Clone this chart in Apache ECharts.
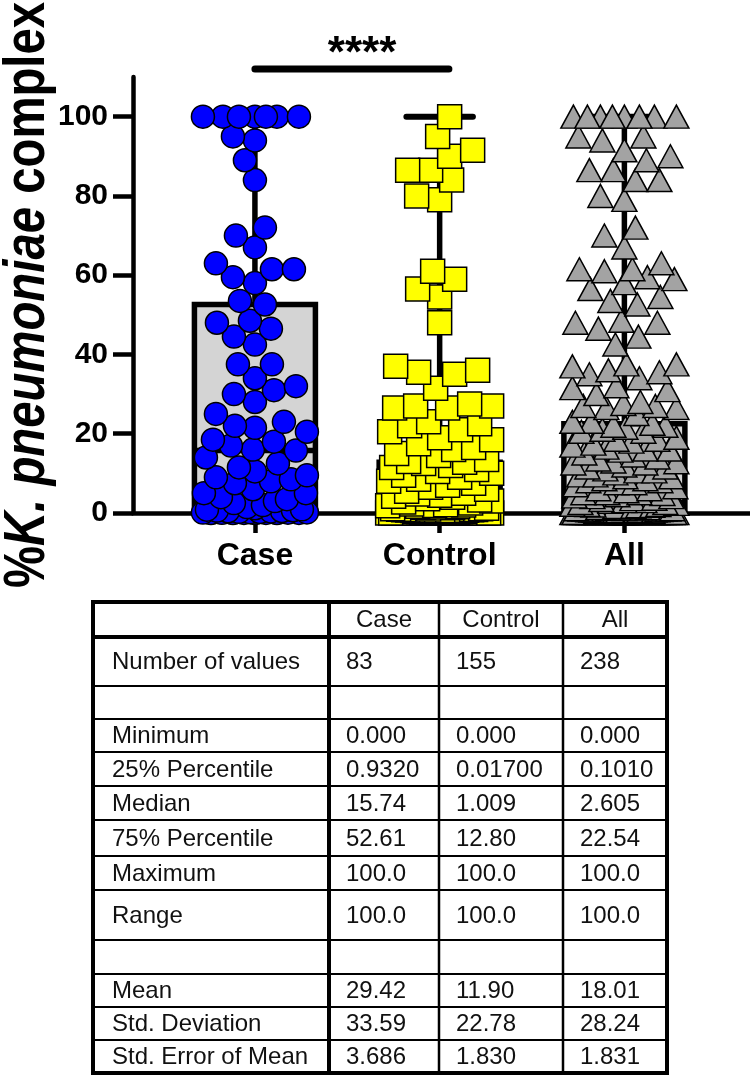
<!DOCTYPE html>
<html><head><meta charset="utf-8">
<script src="https://cdn.jsdelivr.net/npm/echarts@6/dist/echarts.min.js"></script>
<style>html,body{margin:0;padding:0;background:#fff}#c{width:750px;height:1080px}</style>
</head><body><div id="c"></div>
<script>
// ---------------- data ----------------
const categories = ['Case', 'Control', 'All'];
const yTicks = [0, 20, 40, 60, 80, 100];
const yAxisTitle = ['%', 'K. pneumoniae', ' complex'];

const caseValues = [
  100, 100, 100, 100, 100, 100, 100, 95, 94, 89, 84, 72, 70, 67, 63, 61.5, 61.5, 59.5, 58, 53.5, 52.61,
  48.5, 48, 46.5, 44.5, 42.5, 37.5, 37.5, 34, 32, 31, 30, 28, 25, 23, 22, 21.5, 20.5, 18.5, 18, 17, 16,
  15.74,
  14, 12.5, 11.5, 10.5, 9.5, 9, 8.5, 8, 7.5, 6, 5, 5, 4, 3.5, 3, 2.5, 2, 1.5, 1.2, 0.932,
  0.85, 0.7, 0.6, 0.5, 0.45, 0.4, 0.3, 0.25, 0.2, 0.15, 0.1, 0.08, 0.05, 0.03, 0.02, 0.01, 0, 0, 0, 0
];

const controlValues = [
  100, 95, 91.5, 90, 86.5, 86.5, 84, 80, 79, 61, 59, 56.5, 54.5, 48, 37, 36, 35.5, 35, 31.5,
  27.5, 27, 27, 26.5, 26.5, 23, 22.5, 22, 21, 20.5, 19, 18.5, 17.5, 16.5, 16, 15, 14.5, 13.5, 13,
  12.8, 12.5, 12, 11.5, 11, 10.5, 10, 9.5, 9, 8.5, 8, 7.5, 7, 6.5, 6, 5.5, 5,
  4.8, 4.5, 4.2, 4, 3.6, 3.3, 3, 2.8, 2.5, 2.3, 2.1, 2, 1.9, 1.8, 1.7, 1.6, 1.5, 1.4, 1.3, 1.2, 1.1, 1.05,
  1.009,
  0.95, 0.9, 0.85, 0.8, 0.75, 0.7, 0.65, 0.6, 0.55, 0.5, 0.45, 0.42, 0.4, 0.37, 0.35, 0.32, 0.3, 0.28, 0.25,
  0.22, 0.2, 0.18, 0.16, 0.15, 0.13, 0.12, 0.1, 0.09, 0.08, 0.07, 0.06, 0.05, 0.045, 0.04, 0.035, 0.03, 0.025, 0.02,
  0.017,
  0.015, 0.012, 0.01, 0.008, 0.005, 0.003, 0.002, 0.001,
  0, 0, 0, 0, 0, 0, 0, 0, 0, 0, 0, 0, 0, 0, 0, 0, 0, 0, 0, 0, 0, 0, 0, 0, 0, 0, 0, 0, 0, 0
];

const allValues = caseValues.concat(controlValues);

const minimums = [0, 0, 0];
const q1s = [0.932, 0.017, 0.101];
const medians = [15.74, 1.009, 2.605];
const q3s = [52.61, 12.80, 22.54];
const maximums = [100, 100, 100];

const sigLabel = '****';
const sigBar = [1.0, 2.05];   // x-extent of the comparison bar (category units)
const sigBarY = 112;
const sigLabelPos = [1.58, 115.5];

const tableHeader = ['', 'Case', 'Control', 'All'];
const tableRows = [
  ['Number of values', '83', '155', '238'],
  ['', '', '', ''],
  ['Minimum', '0.000', '0.000', '0.000'],
  ['25% Percentile', '0.9320', '0.01700', '0.1010'],
  ['Median', '15.74', '1.009', '2.605'],
  ['75% Percentile', '52.61', '12.80', '22.54'],
  ['Maximum', '100.0', '100.0', '100.0'],
  ['Range', '100.0', '100.0', '100.0'],
  ['', '', '', ''],
  ['Mean', '29.42', '11.90', '18.01'],
  ['Std. Deviation', '33.59', '22.78', '28.24'],
  ['Std. Error of Mean', '3.686', '1.830', '1.831']
];

// ---------------- layout ----------------
const GRID = { left: 133, top: 77, width: 617, height: 436 };
const X_MIN = 0.34, X_MAX = 3.68, Y_MIN = 0, Y_MAX = 110;
const BOX_W = 0.655, CAP_W = 0.36;
const FONT = "'Liberation Sans', Arial, Helvetica, sans-serif";

const rowBounds = [602, 637, 686, 719, 752, 786, 820, 856, 890, 940, 974, 1007, 1040, 1073];
const colBounds = [93, 329, 439, 563, 667];

// deterministic beeswarm placement (pixel collision avoidance)
function beeswarm(values, ci, symW, symH) {
  const xPx = GRID.width / (X_MAX - X_MIN), yPx = GRID.height / (Y_MAX - Y_MIN);
  const maxHalf = 52;
  const sorted = values.slice().sort((a, b) => a - b);
  const placed = [], out = [];
  const cands = [0];
  for (let k = 1; k <= maxHalf; k++) cands.push(-k, k);
  sorted.forEach(v => {
    const py = v * yPx;
    let best = 0, bestScore = -Infinity;
    for (const cx of cands) {
      let minD = Infinity;
      for (const p of placed) {
        const dy = (p[1] - py) / symH;
        if (Math.abs(dy) >= 0.95) continue;
        const dd = Math.hypot((p[0] - cx) / symW, dy);
        if (dd < minD) minD = dd;
      }
      if (minD >= 0.95) { best = cx; break; }
      if (minD > bestScore + 0.02) { bestScore = minD; best = cx; }
    }
    placed.push([best, py]);
    out.push([ci + best / xPx, v]);
  });
  return out;
}

const casePts = beeswarm(caseValues, 1, 23, 23);
const controlPts = beeswarm(controlValues, 2, 24, 24);
const allPts = beeswarm(allValues, 3, 25, 23);

const boxData = categories.map((c, i) => [i + 1, minimums[i], q1s[i], medians[i], q3s[i], maximums[i]]);

function renderBox(params, api) {
  const ci = api.value(0);
  const yMin = api.coord([ci, api.value(1)])[1];
  const yQ1 = api.coord([ci, api.value(2)])[1];
  const yMd = api.coord([ci, api.value(3)])[1];
  const yQ3 = api.coord([ci, api.value(4)])[1];
  const yMax = api.coord([ci, api.value(5)])[1];
  const x = api.coord([ci, 0])[0];
  const hb = api.size([BOX_W, 0])[0] / 2;
  const hc = api.size([CAP_W, 0])[0] / 2;
  const st = { stroke: '#000', lineWidth: 5.5 };
  const stR = { stroke: '#000', lineWidth: 6, lineCap: 'round' };
  return {
    type: 'group', children: [
      { type: 'line', shape: { x1: x, y1: yQ3, x2: x, y2: yMax }, style: st },
      { type: 'line', shape: { x1: x, y1: yQ1, x2: x, y2: yMin }, style: st },
      { type: 'line', shape: { x1: x - hc, y1: yMax, x2: x + hc, y2: yMax }, style: stR },
      { type: 'line', shape: { x1: x - hc, y1: yMin, x2: x + hc, y2: yMin }, style: stR },
      { type: 'rect', shape: { x: x - hb, y: yQ3, width: 2 * hb, height: yQ1 - yQ3 }, style: { fill: '#d4d4d4', stroke: '#000', lineWidth: 5.5 } },
      { type: 'line', shape: { x1: x - hb, y1: yMd, x2: x + hb, y2: yMd }, style: st }
    ]
  };
}

// ---------------- table + axis title (graphic) ----------------
const graphics = [];
graphics.push({
  type: 'text', silent: true, x: 28, y: 295, rotation: Math.PI / 2, scaleX: 0.83, scaleY: 1,
  style: {
    text: '{n|' + yAxisTitle[0] + '}{i|' + yAxisTitle[1] + '}{n|' + yAxisTitle[2] + '}',
    align: 'center', verticalAlign: 'middle',
    rich: {
      n: { fontSize: 57, fontWeight: 'bold', fontFamily: FONT, fill: '#000' },
      i: { fontSize: 57, fontWeight: 'bold', fontStyle: 'italic', fontFamily: FONT, fill: '#000' }
    }
  }
});
rowBounds.forEach((y, i) => {
  const thick = (i === 0 || i === 1 || i === rowBounds.length - 1) ? 4 : 2;
  graphics.push({ type: 'line', silent: true, shape: { x1: colBounds[0] - 2, y1: y, x2: colBounds[colBounds.length - 1] + 2, y2: y }, style: { stroke: '#000', lineWidth: thick } });
});
colBounds.forEach((x, i) => {
  const thick = (i === 0 || i === 1 || i === colBounds.length - 1) ? 4 : 2.5;
  graphics.push({ type: 'line', silent: true, shape: { x1: x, y1: rowBounds[0], x2: x, y2: rowBounds[rowBounds.length - 1] }, style: { stroke: '#000', lineWidth: thick } });
});
const allRows = [tableHeader].concat(tableRows);
allRows.forEach((row, r) => {
  const yc = (rowBounds[r] + rowBounds[r + 1]) / 2 + 1;
  row.forEach((txt, c) => {
    if (!txt) return;
    const isHeader = r === 0;
    const x = isHeader ? (colBounds[c] + colBounds[c + 1]) / 2 : (c === 0 ? colBounds[0] + 19 : colBounds[c] + 17);
    graphics.push({ type: 'text', silent: true, x: x, y: yc, style: { text: txt, fill: '#111', font: '24px ' + FONT, align: isHeader ? 'center' : 'left', verticalAlign: 'middle' } });
  });
});

// ---------------- chart ----------------
const chart = echarts.init(document.getElementById('c'), null, { renderer: 'canvas' });
const axisLine = { show: true, lineStyle: { color: '#000', width: 4.5 } };
chart.setOption({
  animation: false,
  backgroundColor: '#fff',
  grid: Object.assign({ outerBoundsMode: 'none', containLabel: false }, GRID),
  xAxis: {
    type: 'value', min: X_MIN, max: X_MAX, splitLine: { show: false },
    axisLine: axisLine,
    axisTick: { show: true, customValues: [1, 2, 3], length: 20, lineStyle: { color: '#000', width: 4.5 } },
    axisLabel: { customValues: [1, 2, 3], formatter: v => categories[Math.round(v) - 1], fontSize: 32, fontWeight: 'bold', color: '#000', fontFamily: FONT, margin: 27 }
  },
  yAxis: {
    type: 'value', min: Y_MIN, max: Y_MAX, interval: 20, splitLine: { show: false },
    axisLine: axisLine,
    axisTick: { show: true, customValues: yTicks, length: 20, lineStyle: { color: '#000', width: 4.5 } },
    axisLabel: { customValues: yTicks, fontSize: 30, fontWeight: 'bold', color: '#000', fontFamily: FONT, margin: 25 }
  },
  graphic: graphics,
  series: [
    { type: 'custom', renderItem: renderBox, data: boxData, encode: { x: 0, y: [1, 2, 3, 4, 5] }, z: 1, silent: true },
    { type: 'scatter', data: casePts, symbol: 'circle', symbolSize: 23, itemStyle: { color: '#0000ff', borderColor: '#000', borderWidth: 1.5, opacity: 1 }, z: 3, silent: true },
    { type: 'scatter', data: controlPts, symbol: 'rect', symbolSize: 24, itemStyle: { color: '#ffff00', borderColor: '#000', borderWidth: 1.5, opacity: 1 }, z: 3, silent: true },
    { type: 'scatter', data: allPts, symbol: 'triangle', symbolSize: [25, 23], itemStyle: { color: '#a3a3a3', borderColor: '#000', borderWidth: 1.5, opacity: 1 }, z: 3, silent: true },
    { type: 'line', data: [[sigBar[0], sigBarY], [sigBar[1], sigBarY]], symbol: 'none', clip: false, lineStyle: { color: '#000', width: 7, cap: 'round', opacity: 1 }, z: 4, silent: true },
    { type: 'scatter', data: [sigLabelPos], symbolSize: 0, clip: false, silent: true, z: 4,
      itemStyle: { opacity: 1, color: '#000' },
      label: { show: true, position: 'inside', formatter: sigLabel, fontSize: 44, fontWeight: 'bold', color: '#000', opacity: 1, textBorderWidth: 0, fontFamily: FONT } }
  ]
});
</script>
</body></html>
